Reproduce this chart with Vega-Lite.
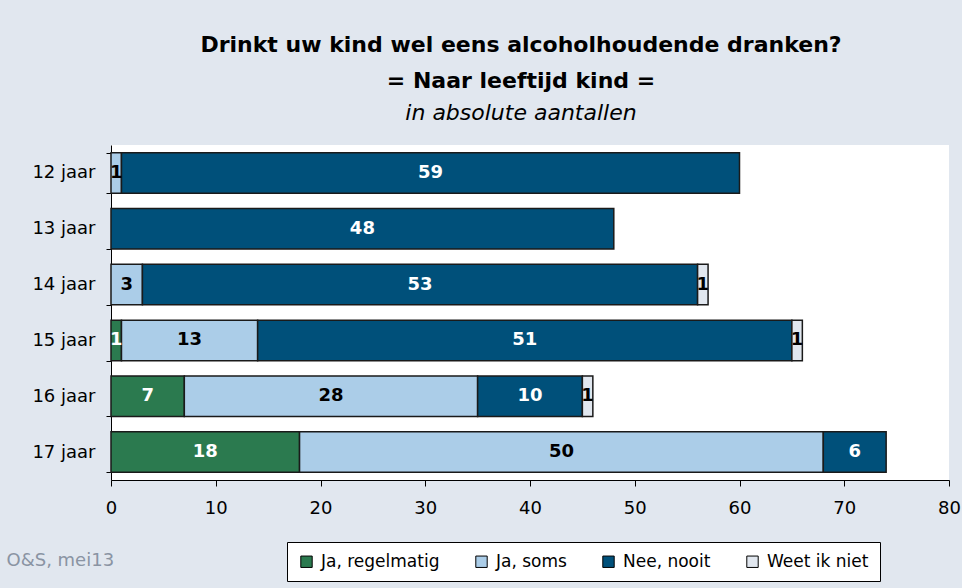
{
  "$schema": "https://vega.github.io/schema/vega-lite/v6.json",
  "width": 838,
  "height": 335,
  "autosize": "none",
  "padding": {"left": 111, "top": 145, "right": 13, "bottom": 108},
  "background": "#E1E7EF",
  "view": {"fill": "white", "stroke": null},
  "title": {
    "text": ["Drinkt uw kind wel eens alcoholhoudende dranken?", "= Naar leeftijd kind ="],
    "subtitle": "in absolute aantallen",
    "font": "DejaVu Sans",
    "fontSize": 22,
    "fontWeight": "bold",
    "lineHeight": 36,
    "color": "black",
    "subtitleFont": "DejaVu Sans",
    "subtitleFontSize": 22,
    "subtitleFontStyle": "italic",
    "subtitleFontWeight": "normal",
    "subtitleColor": "black",
    "subtitlePadding": 10,
    "anchor": "middle",
    "dx": -9,
    "offset": 11
  },
  "data": {
    "values": [
      {"age": "12 jaar", "cat": "Ja, soms", "o": 2, "v": 1},
      {"age": "12 jaar", "cat": "Nee, nooit", "o": 3, "v": 59},
      {"age": "13 jaar", "cat": "Nee, nooit", "o": 3, "v": 48},
      {"age": "14 jaar", "cat": "Ja, soms", "o": 2, "v": 3},
      {"age": "14 jaar", "cat": "Nee, nooit", "o": 3, "v": 53},
      {"age": "14 jaar", "cat": "Weet ik niet", "o": 4, "v": 1},
      {"age": "15 jaar", "cat": "Ja, regelmatig", "o": 1, "v": 1},
      {"age": "15 jaar", "cat": "Ja, soms", "o": 2, "v": 13},
      {"age": "15 jaar", "cat": "Nee, nooit", "o": 3, "v": 51},
      {"age": "15 jaar", "cat": "Weet ik niet", "o": 4, "v": 1},
      {"age": "16 jaar", "cat": "Ja, regelmatig", "o": 1, "v": 7},
      {"age": "16 jaar", "cat": "Ja, soms", "o": 2, "v": 28},
      {"age": "16 jaar", "cat": "Nee, nooit", "o": 3, "v": 10},
      {"age": "16 jaar", "cat": "Weet ik niet", "o": 4, "v": 1},
      {"age": "17 jaar", "cat": "Ja, regelmatig", "o": 1, "v": 18},
      {"age": "17 jaar", "cat": "Ja, soms", "o": 2, "v": 50},
      {"age": "17 jaar", "cat": "Nee, nooit", "o": 3, "v": 6}
    ]
  },
  "transform": [
    {"stack": "v", "groupby": ["age"], "sort": [{"field": "o"}], "as": ["x0", "x1"]},
    {"calculate": "(datum.x0 + datum.x1) / 2", "as": "mid"}
  ],
  "encoding": {
    "y": {
      "field": "age",
      "type": "nominal",
      "sort": ["12 jaar", "13 jaar", "14 jaar", "15 jaar", "16 jaar", "17 jaar"],
      "scale": {"paddingInner": 0.275, "paddingOuter": 0.1375},
      "axis": {
        "title": null,
        "domainColor": "black",
        "domainWidth": 1,
        "tickColor": "black",
        "tickSize": 5,
        "tickBand": "extent",
        "labelFont": "DejaVu Sans",
        "labelFontSize": 18,
        "labelColor": "black",
        "labelPadding": 11
      }
    }
  },
  "layer": [
    {
      "mark": {"type": "bar", "stroke": "#1a1a1a", "strokeWidth": 1.5},
      "encoding": {
        "x": {
          "field": "x0",
          "type": "quantitative",
          "scale": {"domain": [0, 80], "nice": false},
          "axis": {
            "values": [0, 10, 20, 30, 40, 50, 60, 70, 80],
            "grid": false,
            "domainColor": "black",
            "tickColor": "black",
            "tickSize": 6,
            "labelFont": "DejaVu Sans",
            "labelFontSize": 18,
            "labelColor": "black",
            "labelPadding": 13,
            "labelFlush": false,
            "labelOverlap": false,
            "title": "O&S, mei13",
            "titleX": -105,
            "titleY": 80,
            "titleAlign": "left",
            "titleBaseline": "middle",
            "titleFont": "DejaVu Sans",
            "titleFontSize": 18,
            "titleFontWeight": "normal",
            "titleColor": "#8A94A3"
          }
        },
        "x2": {"field": "x1"},
        "fill": {
          "field": "cat",
          "type": "nominal",
          "scale": {
            "domain": ["Ja, regelmatig", "Ja, soms", "Nee, nooit", "Weet ik niet"],
            "range": ["#2B7A4F", "#ABCDE8", "#00507A", "#E1E7EF"]
          },
          "legend": {
            "orient": "none",
            "legendX": 176,
            "legendY": 397,
            "direction": "horizontal",
            "columns": 4,
            "title": null,
            "strokeColor": "black",
            "fillColor": "white",
            "padding": 11,
            "symbolType": "square",
            "symbolSize": 130,
            "symbolStrokeColor": "black",
            "symbolStrokeWidth": 1,
            "labelFont": "DejaVu Sans",
            "labelFontSize": 17,
            "labelColor": "black",
            "columnPadding": 33,
            "labelOffset": 6
          }
        }
      }
    },
    {
      "mark": {"type": "text", "font": "DejaVu Sans", "fontWeight": "bold", "fontSize": 18},
      "encoding": {
        "x": {"field": "mid", "type": "quantitative"},
        "text": {"field": "v", "type": "quantitative"},
        "color": {
          "condition": {"test": "datum.cat === 'Ja, regelmatig' || datum.cat === 'Nee, nooit'", "value": "white"},
          "value": "black"
        }
      }
    }
  ]
}
